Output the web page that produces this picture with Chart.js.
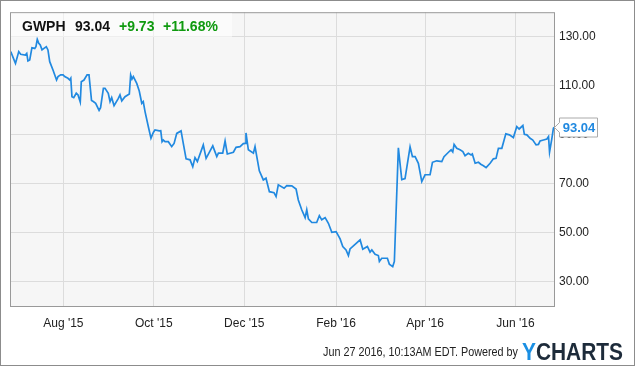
<!DOCTYPE html>
<html><head><meta charset="utf-8">
<script src="https://cdn.jsdelivr.net/npm/chart.js@4/dist/chart.umd.min.js"></script>
<style>html,body{margin:0;padding:0;background:#fff;}canvas{display:block}</style>
</head><body>
<canvas id="c" width="635" height="366"></canvas>
<script>
// ---- data (x = days since 2015-06-26) ----
const ticker = "GWPH";
const lastPriceText = "93.04";
const changeText = "+9.73";
const changePctText = "+11.68%";
const footerText = "Jun 27 2016, 10:13AM EDT. Powered by";
const brandY = "Y";
const brandRest = "CHARTS";

const days = [0.5,3.2,3.7,5.9,7.2,10.3,11.3,12.1,13.3,14.8,16.7,17.5,18.4,19.4,20.4,21.6,22.9,24.5,25.6,26.8,
29.0,31.4,32.4,34.2,35.8,36.9,39.1,40.3,41.0,41.8,43.0,44.7,45.9,47.4,48.1,49.9,52.0,53.3,55.0,56.2,
57.8,60.1,61.1,63.0,64.1,66.3,67.5,68.6,70.2,73.1,74.2,75.4,77.6,80.5,81.4,82.3,83.2,85.5,87.2,88.9,
89.9,91.1,93.3,95.1,96.7,97.8,100.7,101.7,102.6,103.4,104.6,106.8,109.1,110.7,112.5,115.4,116.9,118.8,121.5,123.3,
124.8,126.4,130.4,132.3,136.8,139.5,140.6,143.5,145.1,146.6,150.7,152.5,155.2,157.4,158.6,159.2,160.8,164.2,165.3,168.2,
170.9,172.7,175.0,178.1,179.5,181.0,184.9,186.7,190.1,193.0,194.5,196.8,199.1,200.2,201.3,203.6,206.9,208.7,210.3,212.6,
214.8,217.1,220.0,222.7,224.5,226.7,228.3,229.4,236.2,238.0,241.1,242.9,244.1,246.3,248.5,249.2,250.8,254.6,255.9,258.2,
259.3,262.0,264.3,266.5,269.9,271.5,273.3,275.5,277.8,280.0,283.4,285.0,287.9,291.3,292.8,295.8,297.6,298.7,299.6,301.4,
303.6,305.5,307.0,309.2,311.1,311.9,313.8,316.0,317.6,319.4,321.2,323.9,326.1,327.9,329.5,331.8,334.5,336.9,339.6,341.9,
343.5,346.0,347.0,348.7,350.9,352.7,354.9,356.5,357.6,359.9,362.2,363.3,364.0,365.5,366.6,367.0];

const prices = [123.9,119.8,119.1,123.9,122.8,122.5,123.2,120.1,120.5,125.5,125.2,125.9,128.9,127.3,126.6,124.6,125.2,125.9,124.6,119.8,
116.4,112.3,113.7,114.4,114.4,113.7,113.0,112.3,113.0,105.5,105.1,106.9,106.2,103.3,111.6,112.3,114.4,114.4,103.9,103.5,
102.8,99.9,101.0,108.9,108.9,106.9,103.5,105.1,101.8,104.8,106.2,103.8,105.5,106.6,114.4,112.7,113.7,110.9,107.8,102.8,
103.5,99.4,93.3,88.5,90.9,91.9,91.5,91.6,87.1,87.8,87.1,87.1,85.1,86.4,90.5,91.5,86.4,80.1,79.7,76.9,
80.6,79.0,85.8,80.3,85.4,81.0,82.4,82.4,87.4,82.1,82.8,84.8,85.1,86.3,86.4,90.7,83.8,82.4,85.1,75.2,
71.5,72.2,66.7,66.3,64.7,69.5,68.1,69.2,69.1,67.8,63.3,59.3,56.1,59.3,55.6,54.1,54.1,56.9,55.2,56.1,
53.8,50.1,50.4,47.4,44.3,42.9,40.6,43.3,47.0,43.2,44.3,42.0,42.9,41.1,40.6,38.2,39.5,39.5,37.1,36.1,
38.2,84.6,71.6,72.0,85.0,81.0,81.0,78.3,70.8,73.6,73.6,78.7,79.3,79.0,81.0,82.8,83.8,82.9,86.0,84.4,
83.8,83.1,81.4,82.4,81.7,82.1,78.3,78.7,77.9,77.3,76.5,78.3,80.1,80.3,84.4,84.4,90.3,89.9,88.8,93.3,
92.3,93.7,90.1,89.9,88.5,87.8,85.8,86.0,87.4,87.8,88.2,89.2,82.9,88.2,92.6,93.04];

const tickDays = [36, 97, 158, 220, 280, 341];
const tickLabels = ["Aug '15", "Oct '15", "Dec '15", "Feb '16", "Apr '16", "Jun '16"];
const yTicks = [30, 50, 70, 90, 110, 130];
const xMin = 0, xMax = 367, yMin = 20, yMax = 140;

// ---- chart ----
const FONT = "'Liberation Sans', Arial, Helvetica, sans-serif";
Chart.defaults.font.family = FONT;
Chart.defaults.font.size = 12;
Chart.defaults.color = '#222';

const points = days.map((d, i) => ({x: d, y: prices[i]}));
const LINE = '#2189e0';

const decor = {
  id: 'decor',
  beforeDraw(chart) {
    const {ctx, chartArea: a} = chart;
    ctx.save();
    ctx.fillStyle = '#fff';
    ctx.fillRect(0, 0, chart.width, chart.height);
    ctx.fillStyle = '#f6f6f6';
    ctx.fillRect(a.left, a.top, a.right - a.left, a.bottom - a.top);
    ctx.restore();
  },
  afterDraw(chart) {
    const {ctx, chartArea: a} = chart;
    ctx.save();
    // plot frame
    ctx.strokeStyle = '#999';
    ctx.lineWidth = 1;
    ctx.strokeRect(a.left + 0.5, a.top + 0.5, a.right - a.left, a.bottom - a.top);
    // outer border
    ctx.strokeStyle = '#8c8c8c';
    ctx.strokeRect(0.5, 0.5, chart.width - 1, chart.height - 1);

    // title box
    ctx.fillStyle = 'rgba(255,255,255,0.5)';
    ctx.fillRect(a.left + 1, a.top + 1, 221, 24);
    ctx.textBaseline = 'alphabetic';
    ctx.textAlign = 'left';
    ctx.font = 'bold 14px ' + FONT;
    ctx.fillStyle = '#111';
    ctx.fillText(ticker, a.left + 12, a.top + 19);
    ctx.fillText(lastPriceText, a.left + 65, a.top + 19);
    ctx.fillStyle = '#0f9a0f';
    ctx.fillText(changeText, a.left + 109, a.top + 19);
    ctx.fillText(changePctText, a.left + 153, a.top + 19);

    // last value callout
    const meta = chart.getDatasetMeta(0);
    const lp = meta.data[meta.data.length - 1];
    const px = lp.x, py = Math.round(lp.y) + 0.5;
    const bx = px + 5.5, bw = 38, bh = 19;
    ctx.beginPath();
    ctx.moveTo(px + 0.5, py);
    ctx.lineTo(bx, py - 5);
    ctx.lineTo(bx, py - bh / 2);
    ctx.lineTo(bx + bw, py - bh / 2);
    ctx.lineTo(bx + bw, py + bh / 2);
    ctx.lineTo(bx, py + bh / 2);
    ctx.lineTo(bx, py + 5);
    ctx.closePath();
    ctx.fillStyle = '#fff';
    ctx.fill();
    ctx.strokeStyle = '#aaa';
    ctx.stroke();
    ctx.fillStyle = LINE;
    ctx.font = 'bold 13px ' + FONT;
    ctx.textAlign = 'center';
    ctx.textBaseline = 'middle';
    ctx.fillText(lastPriceText, bx + bw / 2 + 0.5, py + 0.5);

    // footer (condensed to reference width)
    ctx.font = '12px ' + FONT;
    ctx.fillStyle = '#222';
    ctx.textAlign = 'left';
    ctx.textBaseline = 'middle';
    const fw = ctx.measureText(footerText).width;
    ctx.save();
    ctx.translate(323, 353);
    ctx.scale(195 / fw, 1.05);
    ctx.fillText(footerText, 0, 0);
    ctx.restore();
    // brand
    ctx.font = 'bold 24px ' + FONT;
    ctx.textAlign = 'left';
    ctx.textBaseline = 'alphabetic';
    const wY = ctx.measureText(brandY).width;
    const wR = ctx.measureText(brandRest).width;
    const s = 101 / (wY + wR);
    ctx.translate(522, 360);
    ctx.scale(s, 1.0);
    ctx.fillStyle = '#1a8fe3';
    ctx.fillText(brandY, 0, 0);
    ctx.fillStyle = '#1d2b3a';
    ctx.fillText(brandRest, wY, 0);
    ctx.restore();
  }
};

new Chart(document.getElementById('c'), {
  type: 'line',
  data: {
    datasets: [{
      data: points,
      borderColor: LINE,
      borderWidth: 1.7,
      pointRadius: 0,
      tension: 0,
      fill: false
    }]
  },
  options: {
    responsive: false,
    animation: false,
    devicePixelRatio: 1,
    layout: {padding: {left: 10, top: 10, right: 0, bottom: 0}},
    plugins: {legend: {display: false}, tooltip: {enabled: false}},
    scales: {
      x: {
        type: 'linear',
        min: xMin, max: xMax,
        afterBuildTicks: s => { s.ticks = tickDays.map(v => ({value: v})); },
        afterFit: s => { s.height = 60; },
        grid: {color: '#dcdcdc', drawTicks: false},
        border: {display: false},
        ticks: {
          autoSkip: false, maxRotation: 0, padding: 10, color: '#222',
          callback: (v, i) => tickLabels[i]
        }
      },
      y: {
        position: 'right',
        min: yMin, max: yMax,
        afterBuildTicks: s => { s.ticks = yTicks.map(v => ({value: v})); },
        afterFit: s => { s.width = 81; },
        grid: {color: '#dcdcdc', drawTicks: false},
        border: {display: false},
        ticks: {padding: 5, color: '#222', callback: v => Number(v).toFixed(2)}
      }
    }
  },
  plugins: [decor]
});
</script>
</body></html>
